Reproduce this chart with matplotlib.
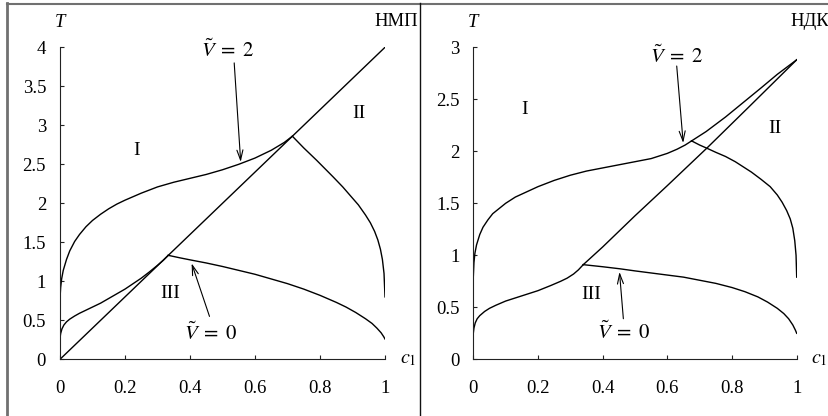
import matplotlib
matplotlib.use("Agg")
import matplotlib.pyplot as plt
from matplotlib.lines import Line2D

plt.rcParams["font.family"] = ["Liberation Serif", "DejaVu Serif"]
plt.rcParams["mathtext.fontset"] = "stix"

# ---------------- НМП panel ----------------
nmp_diag_c = [0.0, 1.0]
nmp_diag_T = [0.0, 4.0]

nmp_upper_c = [0.0, 0.002, 0.005, 0.01, 0.02, 0.03, 0.045, 0.06, 0.08, 0.1,
               0.125, 0.15, 0.175, 0.2, 0.25, 0.3, 0.35, 0.4, 0.45, 0.5,
               0.55, 0.6, 0.65, 0.69, 0.715]
nmp_upper_T = [0.78, 0.92, 1.03, 1.14, 1.28, 1.39, 1.51, 1.60, 1.70, 1.78,
               1.86, 1.93, 1.99, 2.04, 2.13, 2.21, 2.27, 2.32, 2.37, 2.43,
               2.50, 2.58, 2.68, 2.78, 2.86]

nmp_upper_right_c = [0.715, 0.75, 0.79, 0.84, 0.87, 0.895, 0.918, 0.94,
                     0.955, 0.968, 0.978, 0.986, 0.992, 0.997, 1.0]
nmp_upper_right_T = [2.86, 2.71, 2.55, 2.34, 2.21, 2.09, 1.98, 1.85,
                     1.75, 1.64, 1.53, 1.41, 1.28, 1.10, 0.80]

nmp_lower_c = [0.0, 0.002, 0.006, 0.012, 0.02, 0.03, 0.045, 0.06, 0.08, 0.1,
               0.125, 0.15, 0.175, 0.2, 0.225, 0.25, 0.275, 0.3, 0.318, 0.333]
nmp_lower_T = [0.27, 0.33, 0.39, 0.44, 0.48, 0.515, 0.555, 0.59, 0.63, 0.67,
               0.72, 0.78, 0.84, 0.90, 0.97, 1.04, 1.12, 1.205, 1.27, 1.333]

nmp_lower_right_c = [0.333, 0.37, 0.4, 0.45, 0.5, 0.55, 0.6, 0.65, 0.7, 0.75,
                     0.8, 0.85, 0.88, 0.91, 0.94, 0.96, 0.975, 0.988, 0.996,
                     1.0]
nmp_lower_right_T = [1.333, 1.30, 1.275, 1.235, 1.19, 1.14, 1.09, 1.03, 0.97,
                     0.90, 0.82, 0.73, 0.67, 0.60, 0.52, 0.46, 0.40, 0.34,
                     0.29, 0.26]

# ---------------- НДК panel ----------------
ndk_line_c = [0.34, 0.4, 0.5, 0.6, 0.722, 0.85, 1.0]
ndk_line_T = [0.91, 1.08, 1.38, 1.67, 2.03, 2.42, 2.88]

ndk_upper_c = [0.0, 0.002, 0.005, 0.01, 0.02, 0.03, 0.045, 0.06, 0.08, 0.1,
               0.13, 0.165, 0.2, 0.25, 0.3, 0.35, 0.4, 0.45, 0.5, 0.55, 0.6,
               0.63, 0.655, 0.675]
ndk_upper_T = [0.79, 0.93, 1.02, 1.10, 1.20, 1.27, 1.34, 1.40, 1.45, 1.50,
               1.56, 1.61, 1.66, 1.72, 1.77, 1.81, 1.84, 1.87, 1.90, 1.93,
               1.98, 2.02, 2.06, 2.10]

ndk_upper_top_c = [0.675, 0.72, 0.78, 0.835, 0.89, 0.94, 1.0]
ndk_upper_top_T = [2.10, 2.19, 2.33, 2.47, 2.61, 2.74, 2.88]

ndk_upper_right_c = [0.675, 0.7, 0.722, 0.75, 0.78, 0.81, 0.835, 0.86, 0.89,
                     0.918, 0.94, 0.955, 0.969, 0.98, 0.988, 0.994, 0.998,
                     1.0]
ndk_upper_right_T = [2.10, 2.06, 2.03, 1.99, 1.95, 1.90, 1.85, 1.80, 1.73,
                     1.66, 1.58, 1.51, 1.43, 1.35, 1.26, 1.14, 1.00, 0.79]

ndk_lower_c = [0.0, 0.002, 0.006, 0.012, 0.02, 0.035, 0.05, 0.07, 0.1, 0.13,
               0.16, 0.2, 0.24, 0.27, 0.29, 0.31, 0.325, 0.34]
ndk_lower_T = [0.25, 0.30, 0.35, 0.39, 0.42, 0.46, 0.49, 0.52, 0.56, 0.59,
               0.62, 0.66, 0.71, 0.75, 0.78, 0.82, 0.86, 0.91]

ndk_lower_right_c = [0.34, 0.4, 0.454, 0.5, 0.55, 0.6, 0.65, 0.7, 0.75, 0.8,
                     0.84, 0.88, 0.91, 0.94, 0.96, 0.975, 0.988, 0.996, 1.0]
ndk_lower_right_T = [0.91, 0.89, 0.87, 0.85, 0.83, 0.81, 0.79, 0.76, 0.73,
                     0.69, 0.65, 0.60, 0.55, 0.49, 0.44, 0.39, 0.33, 0.28,
                     0.25]

x_ticks = [0, 0.2, 0.4, 0.6, 0.8, 1]
x_tick_labels = ["0", "0.2", "0.4", "0.6", "0.8", "1"]
nmp_y_ticks = [0, 0.5, 1, 1.5, 2, 2.5, 3, 3.5, 4]
nmp_y_labels = ["0", "0.5", "1", "1.5", "2", "2.5", "3", "3.5", "4"]
ndk_y_ticks = [0, 0.5, 1, 1.5, 2, 2.5, 3]
ndk_y_labels = ["0", "0.5", "1", "1.5", "2", "2.5", "3"]

W, H = 829, 416
fig = plt.figure(figsize=(W / 100, H / 100), dpi=100)

FS = 13.5
LW = 1.0


def style_axes(ax, ymax, yticks, ylabels):
    ax.set_xlim(0, 1)
    ax.set_ylim(0, ymax)
    for s in ("top", "right"):
        ax.spines[s].set_visible(False)
    for s in ("left", "bottom"):
        ax.spines[s].set_linewidth(0.8)
        ax.spines[s].set_color("#222222")
    ax.set_xticks(x_ticks)
    ax.set_xticklabels(x_tick_labels)
    ax.set_yticks(yticks)
    ax.set_yticklabels(ylabels)
    ax.tick_params(axis="x", direction="in", length=3, width=0.8,
                   pad=15, labelsize=FS, color="#222222")
    ax.tick_params(axis="y", direction="in", length=3, width=0.8,
                   pad=10, labelsize=FS, color="#222222")
    ax.patch.set_alpha(0)
    ax.text(0, 1.078, "T", transform=ax.transAxes, ha="center", va="center",
            fontsize=FS, style="italic")
    ax.text(1.045, 0.0, r"$c_1$", transform=ax.transAxes, ha="left",
            va="center", fontsize=FS + 1)


def arrow(ax, tail, head):
    ax.annotate("", xy=head, xytext=tail,
                arrowprops=dict(arrowstyle="->,head_length=0.6,head_width=0.18",
                                lw=0.8, color="black",
                                shrinkA=0, shrinkB=0, mutation_scale=12))


def curves(ax, pairs):
    for cs, ts in pairs:
        ax.plot(cs, ts, color="black", lw=LW, solid_joinstyle="round")


ax1 = fig.add_axes([60 / W, 1 - 359.3 / H, 325 / W, 312 / H])
style_axes(ax1, 4, nmp_y_ticks, nmp_y_labels)
curves(ax1, [(nmp_diag_c, nmp_diag_T), (nmp_upper_c, nmp_upper_T),
             (nmp_upper_right_c, nmp_upper_right_T),
             (nmp_lower_c, nmp_lower_T),
             (nmp_lower_right_c, nmp_lower_right_T)])
ax1.text(0.236, 2.68, "I", ha="center", va="center", fontsize=FS + 0.5)
ax1.text(0.92, 3.15, "II", ha="center", va="center", fontsize=FS + 0.5)
ax1.text(0.34, 0.84, "III", ha="center", va="center", fontsize=FS + 0.5)
ax1.text(0.515, 3.95, r"$\tilde{V}\;=\;2$", ha="center", va="center",
         fontsize=FS + 1.5)
arrow(ax1, (0.536, 3.80), (0.556, 2.53))
ax1.text(0.464, 0.33, r"$\tilde{V}\;=\;0$", ha="center", va="center",
         fontsize=FS + 1.5)
arrow(ax1, (0.46, 0.55), (0.405, 1.23))

ax2 = fig.add_axes([473.3 / W, 1 - 359.3 / H, 323.4 / W, 312 / H])
style_axes(ax2, 3, ndk_y_ticks, ndk_y_labels)
curves(ax2, [(ndk_line_c, ndk_line_T), (ndk_upper_c, ndk_upper_T),
             (ndk_upper_top_c, ndk_upper_top_T),
             (ndk_upper_right_c, ndk_upper_right_T),
             (ndk_lower_c, ndk_lower_T),
             (ndk_lower_right_c, ndk_lower_right_T)])
ax2.text(0.158, 2.40, "I", ha="center", va="center", fontsize=FS + 0.5)
ax2.text(0.933, 2.22, "II", ha="center", va="center", fontsize=FS + 0.5)
ax2.text(0.364, 0.62, "III", ha="center", va="center", fontsize=FS + 0.5)
ax2.text(0.629, 2.91, r"$\tilde{V}\;=\;2$", ha="center", va="center",
         fontsize=FS + 1.5)
arrow(ax2, (0.629, 2.82), (0.649, 2.08))
ax2.text(0.464, 0.25, r"$\tilde{V}\;=\;0$", ha="center", va="center",
         fontsize=FS + 1.5)
arrow(ax2, (0.464, 0.39), (0.452, 0.84))

# panel captions
fig.text(418 / W, 1 - 22 / H, "НМП", ha="right", va="center", fontsize=FS)
fig.text(790 / W, 1 - 22 / H, "НДК", ha="left", va="center", fontsize=FS)

# outer frame and separator between panels
fig.add_artist(Line2D([7 / W, 1.0], [1 - 3.5 / H, 1 - 3.5 / H],
                      transform=fig.transFigure, color="#707070", lw=1.5))
fig.add_artist(Line2D([7.5 / W, 7.5 / W], [0, 1 - 3 / H],
                      transform=fig.transFigure, color="#707070", lw=2.0))
fig.add_artist(Line2D([420.5 / W, 420.5 / W], [0, 1 - 3 / H],
                      transform=fig.transFigure, color="#111111", lw=1.0))

fig.savefig("out.png", dpi=100)
